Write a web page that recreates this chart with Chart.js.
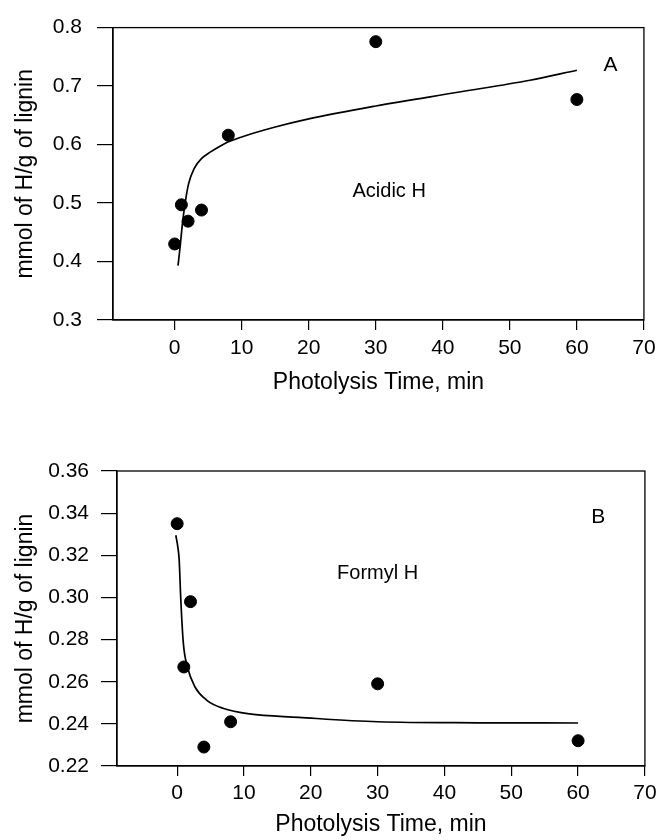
<!DOCTYPE html>
<html>
<head>
<meta charset="utf-8">
<script src="https://cdn.jsdelivr.net/npm/chart.js@4.4.0/dist/chart.umd.min.js"></script>
<style>
  html, body { margin: 0; padding: 0; background: #fff; }
  #wrap { position: relative; width: 661px; height: 840px; overflow: hidden; }
  .box { position: absolute; left: 0; width: 661px; }
  #boxA { top: 0; height: 410px; }
  #boxB { top: 415px; height: 425px; }
</style>
</head>
<body>
<div id="wrap">
  <div class="box" id="boxA"><canvas id="chartA"></canvas></div>
  <div class="box" id="boxB"><canvas id="chartB"></canvas></div>
</div>
<script>
// ---- Panel A: Acidic H ----
const acidTime = [0, 1, 2, 4, 8, 30, 60];
const acidH = [0.43, 0.497, 0.469, 0.488, 0.616, 0.776, 0.677];
const acidFitTime = [0.5, 0.8, 1.2, 1.6, 2.1, 2.9, 4.0, 5.3, 7.5, 10, 15, 20, 30, 42, 53, 60];
const acidFit = [0.393, 0.424, 0.469, 0.503, 0.534, 0.559, 0.576, 0.587, 0.602, 0.613, 0.630, 0.644, 0.666, 0.689, 0.710, 0.727];
const acidYTicks = [0.3, 0.4, 0.5, 0.6, 0.7, 0.8];
const acidLabels = [{text: 'A', x: 65, y: 0.735, size: 21}, {text: 'Acidic H', x: 32, y: 0.52, size: 20}];

// ---- Panel B: Formyl H ----
const formylTime = [0, 1, 2, 4, 8, 30, 60];
const formylH = [0.335, 0.267, 0.298, 0.229, 0.241, 0.259, 0.232];
const formylFitTime = [-0.2, 0.1, 0.3, 0.55, 0.93, 1.53, 2.66, 4.4, 6.85, 10.8, 18.2, 30, 45, 60];
const formylFit = [0.3295, 0.324, 0.318, 0.2988, 0.2782, 0.2671, 0.2576, 0.2513, 0.2474, 0.2447, 0.2431, 0.2410, 0.2405, 0.2404];
const formylYTicks = [0.22, 0.24, 0.26, 0.28, 0.30, 0.32, 0.34, 0.36];
const formylLabels = [{text: 'B', x: 63, y: 0.338, size: 21}, {text: 'Formyl H', x: 30, y: 0.3116, size: 20}];

const xTicks = [0, 10, 20, 30, 40, 50, 60, 70];
const xTitle = 'Photolysis Time, min';
const yTitle = 'mmol of H/g of lignin';

const FONT = "'Liberation Sans', Arial, Helvetica, sans-serif";
Chart.defaults.font.family = FONT;
Chart.defaults.color = '#000';

const framePlugin = {
  id: 'frame',
  afterDraw(chart) {
    const {ctx, chartArea: a} = chart;
    ctx.save();
    ctx.strokeStyle = '#000';
    ctx.lineWidth = 1.3;
    ctx.strokeRect(a.left, a.top, a.right - a.left, a.bottom - a.top);
    ctx.restore();
  }
};

const textPlugin = {
  id: 'panelText',
  afterDatasetsDraw(chart, args, opts) {
    const {ctx} = chart;
    const xs = chart.scales.x, ys = chart.scales.y;
    ctx.save();
    ctx.fillStyle = '#000';
    ctx.textAlign = 'center';
    ctx.textBaseline = 'middle';
    (opts.labels || []).forEach(l => {
      ctx.font = l.size + 'px ' + FONT;
      ctx.fillText(l.text, xs.getPixelForValue(l.x), ys.getPixelForValue(l.y));
    });
    ctx.restore();
  }
};

function makeChart(id, cfg) {
  const pts = cfg.time.map((t, i) => ({x: t, y: cfg.vals[i]}));
  const fit = cfg.fitTime.map((t, i) => ({x: t, y: cfg.fitVals[i]}));
  return new Chart(document.getElementById(id), {
    type: 'scatter',
    data: {
      datasets: [
        {data: fit, showLine: true, borderColor: '#000', borderWidth: 1.7, pointRadius: 0,
         cubicInterpolationMode: 'monotone', fill: false, order: 2},
        {data: pts, backgroundColor: '#000', borderColor: '#000', pointRadius: 6, pointHoverRadius: 6, order: 1}
      ]
    },
    options: {
      responsive: true,
      maintainAspectRatio: false,
      animation: false,
      events: [],
      layout: {padding: cfg.padding},
      plugins: {legend: {display: false}, tooltip: {enabled: false}, panelText: {labels: cfg.labels}},
      scales: {
        x: {
          type: 'linear', min: cfg.xMin, max: 70,
          afterBuildTicks: s => { s.ticks = xTicks.map(v => ({value: v})); },
          afterFit: s => { s.height = cfg.xHeight; },
          grid: {display: true, drawOnChartArea: false, drawTicks: true, tickLength: 10, color: '#000', lineWidth: 1.2},
          border: {display: true, color: '#000', width: 1.3},
          ticks: {font: {size: 21}, padding: cfg.xTickPad, maxRotation: 0, color: '#000'},
          title: {display: true, text: xTitle, font: {size: 23}, color: '#000', padding: {top: 0, bottom: cfg.xTitlePad}}
        },
        y: {
          type: 'linear', min: cfg.yTicks[0], max: cfg.yTicks[cfg.yTicks.length - 1],
          afterBuildTicks: s => { s.ticks = cfg.yTicks.map(v => ({value: v})); },
          afterFit: s => { s.width = cfg.yWidth; },
          grid: {display: true, drawOnChartArea: false, drawTicks: true, tickLength: 16, color: '#000', lineWidth: 1.2},
          border: {display: true, color: '#000', width: 1.3},
          ticks: {font: {size: 21}, padding: cfg.yTickPad, color: '#000',
                  callback: v => Number(v).toFixed(cfg.dec)},
          title: {display: true, text: yTitle, font: {size: 23}, color: '#000', padding: {top: 12, bottom: 0}}
        }
      }
    },
    plugins: [framePlugin, textPlugin]
  });
}

makeChart('chartA', {
  time: acidTime, vals: acidH, fitTime: acidFitTime, fitVals: acidFit,
  yTicks: acidYTicks, dec: 1, labels: acidLabels, xMin: -9.2,
  padding: {top: 24, left: 0, right: 15, bottom: 10.8},
  xHeight: 79.2, yWidth: 113, xTickPad: 5.4, yTickPad: 15, xTitlePad: 2.4
});

makeChart('chartB', {
  time: formylTime, vals: formylH, fitTime: formylFitTime, fitVals: formylFit,
  yTicks: formylYTicks, dec: 2, labels: formylLabels, xMin: -9,
  padding: {top: 56, left: 0, right: 11, bottom: 0.8},
  xHeight: 73.2, yWidth: 117, xTickPad: 4.4, yTickPad: 12, xTitlePad: 0.4
});
</script>
</body>
</html>
